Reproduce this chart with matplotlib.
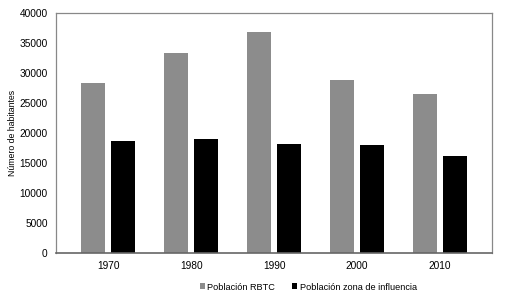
import numpy as np
import matplotlib
matplotlib.use("Agg")
import matplotlib.pyplot as plt

plt.rcParams['font.family'] = ['Liberation Sans', 'DejaVu Sans']

years = ["1970", "1980", "1990", "2000", "2010"]
pob_rbtc = [28400, 33400, 36900, 28900, 26500]
pob_zona = [18600, 19000, 18200, 18000, 16100]

fig = plt.figure(figsize=(5.18, 2.94), dpi=100)
ax = fig.add_axes([0.108, 0.139, 0.842, 0.817])

x = np.arange(len(years))
w = 0.285
ax.bar(x - 0.18, pob_rbtc, w, color="#8c8c8c", label="Población RBTC")
ax.bar(x + 0.18, pob_zona, w, color="#000000", label="Población zona de influencia")

ax.set_xlim(-0.63, len(years) - 0.37)
ax.set_ylim(0, 40000)
ax.set_yticks(range(0, 40001, 5000))
ax.set_xticks(x)
ax.set_xticklabels(years)
ax.tick_params(axis="both", labelsize=7.3, length=0, pad=6)
ax.set_ylabel("Número de habitantes", fontsize=6.3, labelpad=1.5)

for s in ["top", "right", "left"]:
    ax.spines[s].set_color("#888888")
    ax.spines[s].set_linewidth(0.9)
ax.spines["bottom"].set_color("#666666")
ax.spines["bottom"].set_linewidth(1.2)

fig.legend(loc="lower center", bbox_to_anchor=(0.595, -0.02), ncol=2, frameon=False,
           fontsize=6.6, handlelength=0.6, handleheight=0.6, handletextpad=0.25,
           columnspacing=1.8)

fig.savefig("out.png", dpi=100)
